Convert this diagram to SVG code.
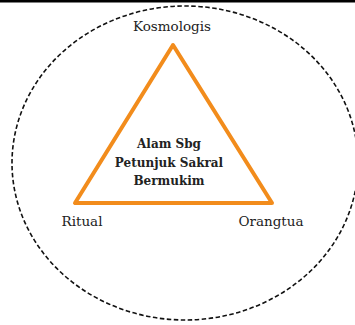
<svg xmlns="http://www.w3.org/2000/svg" width="355" height="325" viewBox="0 0 355 325">
<style>
.lbl{font-family:"DejaVu Serif","Liberation Serif",serif;font-size:13.5px;fill:#222;text-anchor:middle}
.ctr{font-family:"DejaVu Serif","Liberation Serif",serif;font-size:12px;font-weight:bold;fill:#222;text-anchor:middle}
</style>
<rect x="0" y="0" width="355" height="325" fill="#fff"/>
<rect x="0" y="0" width="355" height="2.5" fill="#000"/>
<g id="connectors">
<ellipse cx="185" cy="163" rx="173" ry="157" fill="none" stroke="#111" stroke-width="1.6" stroke-dasharray="4.5,2.5"/>
<polygon points="173,45 75,203 272,203" fill="none" stroke="#F28C1C" stroke-width="4" stroke-linejoin="round"/>
</g>
<g id="kosmologis"><text class="lbl" x="172" y="31">Kosmologis</text></g>
<g id="center"><text class="ctr" x="169" y="148">Alam Sbg</text><text class="ctr" x="169" y="167">Petunjuk Sakral</text><text class="ctr" x="169" y="185">Bermukim</text></g>
<g id="ritual"><text class="lbl" x="82" y="226">Ritual</text></g>
<g id="orangtua"><text class="lbl" x="271" y="226">Orangtua</text></g>
</svg>
